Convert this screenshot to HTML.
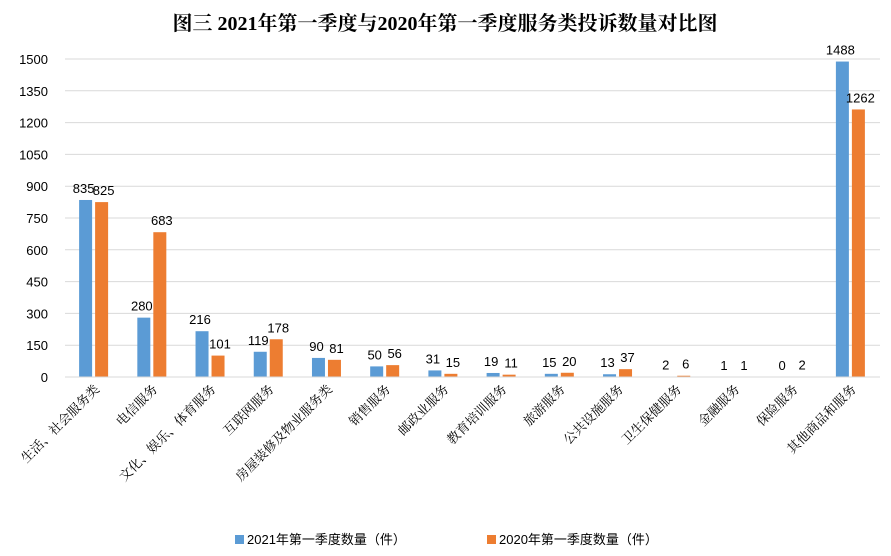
<!DOCTYPE html>
<html><head><meta charset="utf-8"><style>
body{margin:0;background:#fff;width:891px;height:556px;overflow:hidden}
svg{display:block}
</style></head><body>
<svg id="c" width="891" height="556" xmlns="http://www.w3.org/2000/svg">
<text x="445" y="30" text-anchor="middle" font-family="'Liberation Serif','Noto Serif CJK SC',serif" font-weight="bold" font-size="20" fill="#000">图三 2021年第一季度与2020年第一季度服务类投诉数量对比图</text>
<g id="grid"></g>
<g id="yaxis"></g>
<g id="bars"></g>
<g id="xaxis"></g>
<g font-family="'Liberation Sans','Noto Sans CJK SC',sans-serif" font-size="13">
<g><rect x="235" y="535" width="9" height="9" fill="#5b9bd5"/><text x="247" y="544" fill="#000">2021年第一季度数量（件）</text></g>
<g><rect x="487" y="535" width="9" height="9" fill="#ed7d31"/><text x="499" y="544" fill="#000">2020年第一季度数量（件）</text></g>
</g>
</svg>
<script>
const categories=["生活、社会服务类","电信服务","文化、娱乐、体育服务","互联网服务","房屋装修及物业服务类","销售服务","邮政业服务","教育培训服务","旅游服务","公共设施服务","卫生保健服务","金融服务","保险服务","其他商品和服务"];
const values2021=[835,280,216,119,90,50,31,19,15,13,2,1,0,1488];
const values2020=[825,683,101,178,81,56,15,11,20,37,6,1,2,1262];
const yTicks=[0,150,300,450,600,750,900,1050,1200,1350,1500];
const NS="http://www.w3.org/2000/svg";
const x0=65,x1=880,y0=377,yTop=59,ymax=1500;
const bw=(x1-x0)/categories.length;
const y=v=>y0-(v/ymax)*(y0-yTop);
function el(t,a,p,txt){const e=document.createElementNS(NS,t);for(const k in a)e.setAttribute(k,a[k]);if(txt!==undefined)e.textContent=txt;p.appendChild(e);return e;}
const grid=document.getElementById('grid'),ya=document.getElementById('yaxis'),bars=document.getElementById('bars'),xa=document.getElementById('xaxis');
const F="'Liberation Sans','Noto Sans CJK SC',sans-serif";
yTicks.forEach(t=>{
 if(t>0){const g=el('line',{x1:x0,x2:x1,y1:y(t),y2:y(t),stroke:'#d9d9d9','stroke-width':1},grid);
 
 }
 const l=el('text',{x:48,y:y(t)+5,'text-anchor':'end','font-family':F,'font-size':13,fill:'#000'},ya,t);
 
 
});
const ax=el('line',{x1:x0,x2:x1,y1:y0,y2:y0,stroke:'#d9d9d9','stroke-width':1},xa);


categories.forEach((c,i)=>{
 const cx=x0+bw*(i+0.5);
 [[values2021[i],'#5b9bd5',cx-15],[values2020[i],'#ed7d31',cx+1]].forEach(([v,col,bx],j)=>{
  const r=el('rect',{x:bx,y:y(v),width:13,height:y0-y(v),fill:col},bars);
  
  
  const t=el('text',{x:bx+6.5+(j?2:-2),y:y(v)-7,'text-anchor':'middle','font-family':F,'font-size':13,fill:'#000'},bars,v);
  
  
 });
 const lx=cx+6,ly=390;
 const tl=el('text',{x:lx,y:ly,'text-anchor':'end','font-family':"'Liberation Serif','Noto Serif CJK SC',serif",'font-size':13,fill:'#000',transform:`rotate(-45 ${lx} ${ly})`},xa,c);
 
 
});
</script>
</body></html>
